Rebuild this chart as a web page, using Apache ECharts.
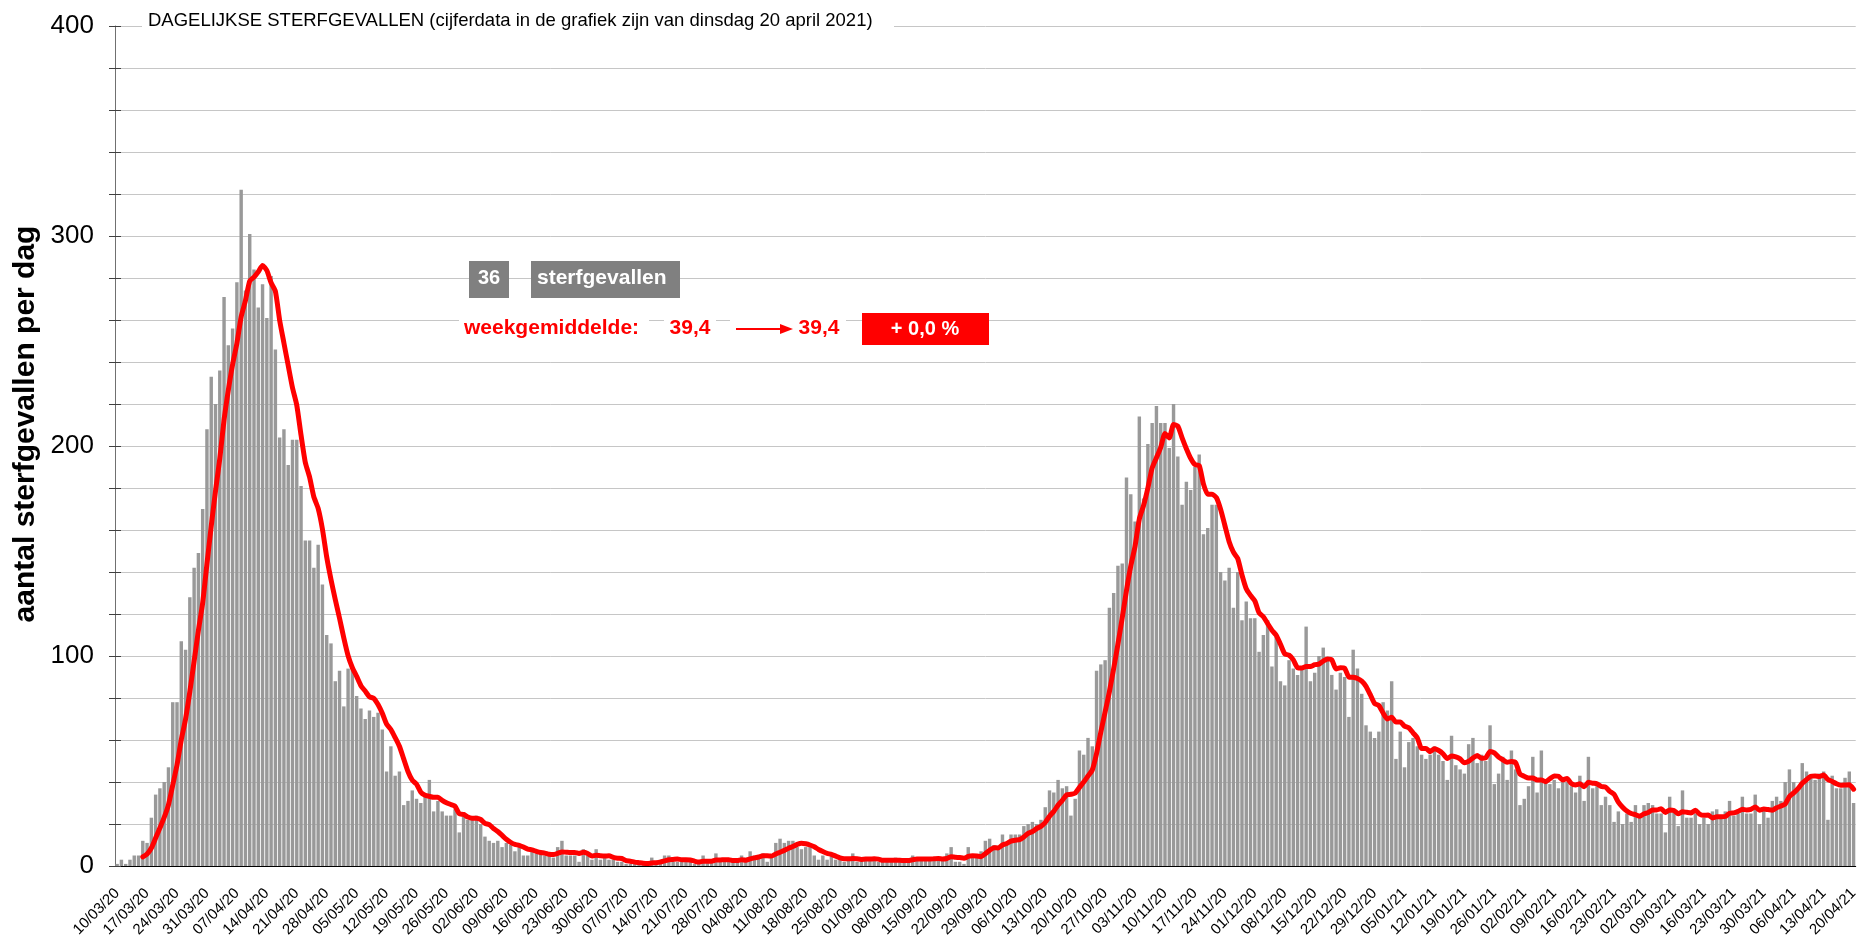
<!DOCTYPE html>
<html><head><meta charset="utf-8">
<script src="https://cdn.jsdelivr.net/npm/echarts@6/dist/echarts.min.js"></script>
<style>html,body{margin:0;padding:0;background:#fff}#c{width:1861px;height:940px}</style>
</head><body><div id="c"></div>
<script>
// Daily deaths, per month (first day: 10/03/2020)
const mar20 = [1,3,1,3,5,5,12,11,23,34,37,40,47,78,78,107,103,128,142,149,170,208];
const apr20 = [233,220,236,271,248,256,278,322,274,301,284,266,277,261,281,246,204,208,191,203,203,181,155,155,142,153,134,110,106,88];
const may20 = [93,76,94,94,81,75,70,74,71,73,65,45,57,43,45,29,31,36,32,30,33,41,26,31,26,24,24,27,16,24,22];
const jun20 = [22,24,20,14,12,11,12,9,11,10,7,9,5,5,7,6,6,5,5,4,9,12,5,5,5,2,8,5,3,8];
const jul20 = [3,4,3,3,2,2,1,1,1,1,1,1,4,2,3,5,5,2,2,2,2,2,1,2,5,2,2,6,2,2,2];
const aug20 = [2,2,5,4,7,5,5,6,2,4,11,13,11,12,12,9,8,9,9,5,3,5,3,5,3,3,2,3,6,2,3];
const sep20 = [4,3,3,2,2,2,3,4,3,2,2,5,4,3,4,3,3,3,3,6,9,2,2,1,9,5,5,7,12,13];
const oct20 = [10,8,15,10,15,15,15,19,20,21,20,22,28,36,35,41,37,38,24,32,55,53,61,57,93,96,98,123,130,143,144];
const nov20 = [185,177,164,214,175,201,211,219,211,211,199,220,195,172,183,179,190,196,158,161,172,172,140,136,142,123,140,117,126,118];
const dec20 = [118,102,110,117,95,109,88,86,98,94,91,94,114,88,92,100,104,98,91,84,92,90,71,103,94,82,67,64,61,64,78];
const jan21 = [74,88,51,64,47,59,61,57,53,51,53,57,53,50,41,62,48,46,44,58,61,49,53,50,67,39,44,52,41,55,46];
const feb21 = [29,32,38,52,35,55,40,39,41,37,40,40,38,35,43,31,52,37,38,29,33,29,21,26,20,25,21,29];
const mar21 = [24,29,30,29,25,25,16,33,27,19,36,23,23,25,20,23,20,26,27,23,26,31,24,25,33,25,25,34,20,28,23];
const apr21 = [31,33,31,40,46,40,37,49,45,42,41,44,45,22,43,37,37,42,45,30];

const yTickLabels = [0, 100, 200, 300, 400];
const titleText = 'DAGELIJKSE STERFGEVALLEN (cijferdata in de grafiek zijn van dinsdag 20 april 2021)';
const yName = 'aantal sterfgevallen per dag';
const lastDay = '36';
const avgFrom = '39,4';
const avgTo = '39,4';
const avgChange = '+ 0,0 %';

const deaths = [].concat(mar20, apr20, may20, jun20, jul20, aug20, sep20, oct20, nov20, dec20, jan21, feb21, mar21, apr21);

// date categories dd/mm/yy
const days = [];
const d0 = Date.UTC(2020, 2, 10);
for (let i = 0; i < deaths.length; i++) {
  const d = new Date(d0 + i * 86400000);
  const dd = String(d.getUTCDate()).padStart(2, '0');
  const mm = String(d.getUTCMonth() + 1).padStart(2, '0');
  const yy = String(d.getUTCFullYear()).slice(2);
  days.push(dd + '/' + mm + '/' + yy);
}
// trailing 7-day average (weekgemiddelde)
const avg7 = deaths.map((v, i) => {
  if (i < 6) return null;
  let s = 0; for (let k = i - 6; k <= i; k++) s += deaths[k];
  return +(s / 7).toFixed(2);
});

const FF = '"Liberation Sans", Arial, Helvetica, sans-serif';
const chart = echarts.init(document.getElementById('c'), null, { renderer: 'canvas' });
chart.setOption({
  animation: false,
  backgroundColor: '#fff',
  textStyle: { fontFamily: FF },
  grid: { left: 115, right: 0, top: 26, bottom: 74, containLabel: false },
  xAxis: [{
    type: 'category', data: days, boundaryGap: true,
    axisLine: { lineStyle: { color: '#000', width: 1 } },
    axisTick: { interval: 0, length: 4, lineStyle: { color: '#000' } },
    axisLabel: { interval: 6, rotate: 45, fontSize: 15, color: '#000', margin: 25, fontFamily: FF },
    splitLine: { show: false }
  }, {
    type: 'category', data: days, position: 'bottom', boundaryGap: true,
    axisLine: { show: false },
    axisTick: { interval: 6, length: 7, lineStyle: { color: '#000' } },
    axisLabel: { show: false }, splitLine: { show: false }
  }],
  yAxis: [{
    type: 'value', min: 0, max: 400, interval: 20,
    axisLine: { show: true, lineStyle: { color: '#707070', width: 1 } },
    axisTick: { show: true, length: 6, lineStyle: { color: '#404040' } },
    axisLabel: { fontSize: 26, color: '#000', margin: 21, fontFamily: FF,
      formatter: v => (yTickLabels.indexOf(v) >= 0 ? String(v) : '') },
    splitLine: { show: true, lineStyle: { color: '#c6c6c6', width: 1 } }
  }, {
    type: 'value', min: 0, max: 400, interval: 20, position: 'left',
    axisLine: { show: false },
    axisTick: { show: true, inside: true, length: 6, lineStyle: { color: '#404040' } },
    axisLabel: { show: false }, splitLine: { show: false }
  }],
  series: [{
    type: 'bar', data: deaths, barCategoryGap: '20%',
    itemStyle: { color: '#999999' }, z: 2
  }, {
    type: 'line', data: avg7, showSymbol: false, symbol: 'none', smooth: 0.2,
    lineStyle: { color: '#ff0000', width: 5, join: 'round', cap: 'round' }, z: 3
  }],
  graphic: [
    { type: 'text', x: 26, y: 424, rotation: Math.PI / 2,
      style: { text: yName, font: 'bold 30px ' + FF, fill: '#000', textAlign: 'center', textVerticalAlign: 'middle' }, z: 11 },
    { type: 'rect', shape: { x: 142, y: 11, width: 752, height: 22 }, style: { fill: '#fff' }, z: 10 },
    { type: 'text', x: 148, y: 21, style: { text: titleText, font: '18.5px ' + FF, fill: '#000', textVerticalAlign: 'middle' }, z: 11 },

    { type: 'rect', shape: { x: 469, y: 261, width: 40, height: 37 }, style: { fill: '#808080' }, z: 10 },
    { type: 'text', x: 489, y: 278, style: { text: lastDay, font: 'bold 20px ' + FF, fill: '#fff', textAlign: 'center', textVerticalAlign: 'middle' }, z: 11 },
    { type: 'rect', shape: { x: 531, y: 261, width: 149, height: 37 }, style: { fill: '#808080' }, z: 10 },
    { type: 'text', x: 537, y: 278, style: { text: 'sterfgevallen', font: 'bold 21px ' + FF, fill: '#fff', textVerticalAlign: 'middle' }, z: 11 },

    { type: 'rect', shape: { x: 459, y: 316, width: 190, height: 24 }, style: { fill: '#fff' }, z: 10 },
    { type: 'text', x: 464, y: 328, style: { text: 'weekgemiddelde:', font: 'bold 21px ' + FF, fill: '#ff0000', textVerticalAlign: 'middle' }, z: 11 },
    { type: 'rect', shape: { x: 664, y: 316, width: 52, height: 24 }, style: { fill: '#fff' }, z: 10 },
    { type: 'text', x: 690, y: 328, style: { text: avgFrom, font: 'bold 21px ' + FF, fill: '#ff0000', textAlign: 'center', textVerticalAlign: 'middle' }, z: 11 },
    { type: 'rect', shape: { x: 730, y: 316, width: 66, height: 24 }, style: { fill: '#fff' }, z: 10 },
    { type: 'line', shape: { x1: 736, y1: 329, x2: 782, y2: 329 }, style: { stroke: '#ff0000', lineWidth: 2 }, z: 11 },
    { type: 'polygon', shape: { points: [[780, 324], [793, 329], [780, 334]] }, style: { fill: '#ff0000' }, z: 11 },
    { type: 'rect', shape: { x: 794, y: 316, width: 52, height: 24 }, style: { fill: '#fff' }, z: 10 },
    { type: 'text', x: 819, y: 328, style: { text: avgTo, font: 'bold 21px ' + FF, fill: '#ff0000', textAlign: 'center', textVerticalAlign: 'middle' }, z: 11 },
    { type: 'rect', shape: { x: 862, y: 313, width: 127, height: 32 }, style: { fill: '#ff0000' }, z: 10 },
    { type: 'text', x: 925, y: 329, style: { text: avgChange, font: 'bold 20px ' + FF, fill: '#fff', textAlign: 'center', textVerticalAlign: 'middle' }, z: 11 }
  ]
});
</script>
</body></html>
